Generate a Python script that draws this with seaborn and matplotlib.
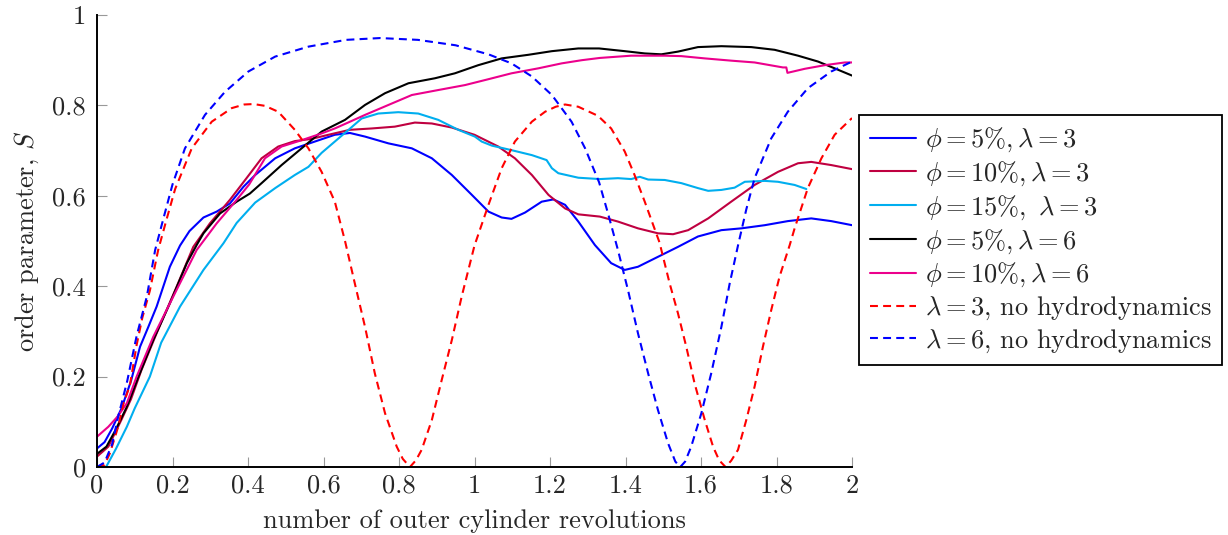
import numpy as np
import pandas as pd
import matplotlib
matplotlib.use("Agg")
import matplotlib.pyplot as plt
import seaborn as sns

# ---------------- data ----------------
# phi = 5%, lambda = 3
b5_x = [0, 0.02, 0.04, 0.065, 0.09, 0.114, 0.136, 0.158, 0.193, 0.22, 0.245, 0.282, 0.317, 0.352, 0.388,
        0.419, 0.472, 0.524, 0.577, 0.63, 0.67, 0.71, 0.772, 0.834, 0.887, 0.94, 0.993, 1.037,
        1.072, 1.098, 1.134, 1.178, 1.209, 1.24, 1.275, 1.319, 1.362, 1.398, 1.433, 1.486, 1.539,
        1.592, 1.654, 1.707, 1.769, 1.83, 1.892, 1.945, 2.0]
b5_S = [0.041, 0.055, 0.085, 0.13, 0.19, 0.266, 0.31, 0.355, 0.443, 0.49, 0.522, 0.552, 0.565, 0.583, 0.62,
        0.646, 0.683, 0.705, 0.72, 0.735, 0.739, 0.731, 0.716, 0.705, 0.683, 0.646, 0.602, 0.565,
        0.552, 0.549, 0.563, 0.587, 0.592, 0.58, 0.543, 0.491, 0.451, 0.436, 0.443, 0.465, 0.487,
        0.51, 0.524, 0.528, 0.535, 0.544, 0.55, 0.544, 0.535]

# phi = 10%, lambda = 3
p10_x = [0, 0.03, 0.065, 0.09, 0.118, 0.158, 0.211, 0.255, 0.299, 0.352, 0.397, 0.436, 0.48, 0.524,
         0.569, 0.613, 0.67, 0.728, 0.789, 0.842, 0.887, 0.94, 1.0, 1.063, 1.107, 1.152, 1.196,
         1.24, 1.275, 1.332, 1.38, 1.433, 1.486, 1.526, 1.566, 1.619, 1.68, 1.742, 1.804, 1.857,
         1.892, 1.945, 2.0]
p10_S = [0.023, 0.045, 0.105, 0.15, 0.215, 0.296, 0.399, 0.487, 0.539, 0.591, 0.64, 0.683, 0.709, 0.721,
         0.726, 0.735, 0.746, 0.749, 0.753, 0.762, 0.76, 0.751, 0.735, 0.709, 0.683, 0.646, 0.602,
         0.572, 0.559, 0.554, 0.543, 0.528, 0.517, 0.515, 0.524, 0.55, 0.587, 0.624, 0.653, 0.672,
         0.675, 0.668, 0.659]

# phi = 15%, lambda = 3
c15_x = [0.024, 0.05, 0.079, 0.1, 0.14, 0.17, 0.22, 0.282, 0.335, 0.37, 0.419, 0.472, 0.524, 0.56,
         0.595, 0.63, 0.665, 0.701, 0.745, 0.798, 0.851, 0.904, 0.957, 1.001, 1.019, 1.046, 1.098,
         1.152, 1.191, 1.205, 1.222, 1.275, 1.332, 1.38, 1.415, 1.438, 1.46, 1.504, 1.548, 1.592,
         1.619, 1.654, 1.689, 1.716, 1.769, 1.804, 1.848, 1.879]
c15_S = [0.0, 0.04, 0.089, 0.13, 0.2, 0.275, 0.355, 0.436, 0.495, 0.54, 0.585, 0.617, 0.646, 0.664,
         0.695, 0.72, 0.745, 0.771, 0.782, 0.785, 0.782, 0.768, 0.746, 0.731, 0.72, 0.711, 0.701,
         0.69, 0.679, 0.661, 0.65, 0.64, 0.637, 0.639, 0.637, 0.642, 0.636, 0.635, 0.628, 0.617,
         0.611, 0.613, 0.618, 0.631, 0.633, 0.631, 0.624, 0.615]

# phi = 5%, lambda = 6
k5_x = [0, 0.025, 0.048, 0.079, 0.11, 0.149, 0.193, 0.238, 0.264, 0.282, 0.326, 0.37, 0.405, 0.436,
        0.489, 0.542, 0.595, 0.657, 0.71, 0.763, 0.825, 0.895, 0.948, 1.01, 1.072, 1.143, 1.205,
        1.275, 1.33, 1.398, 1.451, 1.495, 1.539, 1.592, 1.654, 1.733, 1.795, 1.857, 1.91, 1.954, 2.0]
k5_S = [0.029, 0.045, 0.08, 0.133, 0.2, 0.281, 0.362, 0.451, 0.491, 0.517, 0.561, 0.587, 0.605, 0.628,
        0.668, 0.705, 0.742, 0.768, 0.801, 0.827, 0.849, 0.86, 0.871, 0.889, 0.904, 0.912, 0.92,
        0.926, 0.926, 0.92, 0.915, 0.913, 0.919, 0.929, 0.931, 0.929, 0.923, 0.91, 0.897, 0.882, 0.866]

# phi = 10%, lambda = 6
m10_x = [0, 0.03, 0.055, 0.079, 0.105, 0.149, 0.211, 0.264, 0.317, 0.37, 0.403, 0.445, 0.489, 0.542,
         0.595, 0.63, 0.665, 0.71, 0.772, 0.834, 0.904, 0.975, 1.037, 1.098, 1.169, 1.231, 1.284,
         1.332, 1.415, 1.504, 1.548, 1.61, 1.68, 1.742, 1.817, 1.826, 1.829, 1.875, 1.928, 1.981, 2.0]
m10_S = [0.067, 0.089, 0.112, 0.141, 0.2, 0.288, 0.392, 0.48, 0.539, 0.591, 0.625, 0.683, 0.709, 0.723,
         0.738, 0.749, 0.762, 0.779, 0.801, 0.823, 0.834, 0.845, 0.858, 0.871, 0.882, 0.893, 0.9,
         0.905, 0.91, 0.91, 0.909, 0.904, 0.899, 0.895, 0.884, 0.884, 0.872, 0.881, 0.889, 0.895, 0.895]

# lambda = 3, no hydrodynamics
r3_x = [0, 0.02, 0.034, 0.056, 0.07, 0.087, 0.105, 0.12, 0.14, 0.162, 0.185, 0.207, 0.251, 0.304,
        0.357, 0.39, 0.415, 0.445, 0.48, 0.524, 0.56, 0.595, 0.63, 0.657, 0.683, 0.71, 0.736, 0.763, 0.794,
        0.81, 0.829, 0.845, 0.86, 0.887, 0.913, 0.94, 0.966, 1.0, 1.037, 1.072, 1.107, 1.152,
        1.187, 1.215, 1.24, 1.275, 1.327, 1.362, 1.398, 1.424, 1.451, 1.49, 1.517, 1.539, 1.561, 1.583,
        1.61, 1.632, 1.648, 1.665, 1.68, 1.698, 1.72, 1.742, 1.764, 1.786, 1.808, 1.835, 1.848,
        1.883, 1.919, 1.954, 2.0]
r3_S = [0, 0.005, 0.03, 0.089, 0.14, 0.18, 0.27, 0.33, 0.39, 0.48, 0.55, 0.615, 0.705, 0.764,
        0.794, 0.802, 0.803, 0.799, 0.786, 0.746, 0.705, 0.653, 0.587, 0.5, 0.406, 0.31, 0.207, 0.119, 0.045,
        0.018, 0.0, 0.015, 0.038, 0.104, 0.192, 0.281, 0.377, 0.49, 0.58, 0.661, 0.72, 0.764,
        0.786, 0.797, 0.802, 0.797, 0.777, 0.749, 0.698, 0.646, 0.587, 0.497, 0.406, 0.34, 0.266, 0.185,
        0.104, 0.045, 0.015, 0.0, 0.014, 0.038, 0.104, 0.178, 0.266, 0.347, 0.421, 0.491, 0.528,
        0.617, 0.683, 0.735, 0.772]

# lambda = 6, no hydrodynamics
b6_x = [0, 0.02, 0.04, 0.056, 0.08, 0.105, 0.132, 0.154, 0.176, 0.2, 0.233, 0.286, 0.339, 0.401,
        0.472, 0.56, 0.66, 0.75, 0.85, 0.95, 1.037, 1.098, 1.152, 1.205, 1.257, 1.293, 1.33, 1.354,
        1.38, 1.407, 1.433, 1.46, 1.486, 1.513, 1.532, 1.545, 1.558, 1.574, 1.601, 1.627, 1.654,
        1.676, 1.698, 1.72, 1.742, 1.786, 1.83, 1.883, 1.945, 2.0]
b6_S = [0, 0.01, 0.05, 0.111, 0.19, 0.29, 0.377, 0.48, 0.55, 0.625, 0.705, 0.779, 0.83, 0.875,
        0.908, 0.93, 0.945, 0.949, 0.945, 0.933, 0.913, 0.893, 0.864, 0.823, 0.764, 0.705, 0.63, 0.56,
        0.48, 0.39, 0.296, 0.207, 0.126, 0.052, 0.012, 0.0, 0.012, 0.045, 0.119, 0.207, 0.31,
        0.406, 0.49, 0.57, 0.639, 0.727, 0.786, 0.838, 0.875, 0.897]

labels = [r"$\phi = 5\%, \lambda = 3$",
          r"$\phi = 10\%, \lambda = 3$",
          r"$\phi = 15\%,\ \lambda = 3$",
          r"$\phi = 5\%, \lambda = 6$",
          r"$\phi = 10\%, \lambda = 6$",
          r"$\lambda = 3$, no hydrodynamics",
          r"$\lambda = 6$, no hydrodynamics"]

xticks = [0, 0.2, 0.4, 0.6, 0.8, 1.0, 1.2, 1.4, 1.6, 1.8, 2.0]
xticklabels = ["0", "0.2", "0.4", "0.6", "0.8", "1", "1.2", "1.4", "1.6", "1.8", "2"]
yticks = [0, 0.2, 0.4, 0.6, 0.8, 1.0]
yticklabels = ["0", "0.2", "0.4", "0.6", "0.8", "1"]

# ---------------- style ----------------
sns.set_theme(style="white")
plt.rcParams.update({
    "font.family": ["cmr10"],
    "mathtext.fontset": "cm",
    "axes.formatter.use_mathtext": True,
    "axes.unicode_minus": False,
})

FS = 19
colors = ["#0000FF", "#BF0040", "#00AEEF", "#000000", "#EC008C", "#FF0000", "#0000FF"]
series = [(b5_x, b5_S), (p10_x, p10_S), (c15_x, c15_S), (k5_x, k5_S), (m10_x, m10_S),
          (r3_x, r3_S), (b6_x, b6_S)]
dashed = [False, False, False, False, False, True, True]

fig = plt.figure(figsize=(12.28, 5.35), dpi=100)
ax = fig.add_axes([97 / 1228, 68 / 535, (852 - 97) / 1228, (467 - 15) / 535])

for (xs, ss), lab, col, dsh in zip(series, labels, colors, dashed):
    df = pd.DataFrame({"x": xs, "S": ss})
    kw = dict(linestyle=(0, (3.8, 2.5))) if dsh else dict(linestyle="-")
    sns.lineplot(data=df, x="x", y="S", ax=ax, color=col, linewidth=1.5,
                 label=lab, estimator=None, sort=False, **kw)

ax.set_xlim(0, 2)
ax.set_ylim(0, 1)
ax.set_xticks(xticks)
ax.set_xticklabels(xticklabels)
ax.set_yticks(yticks)
ax.set_yticklabels(yticklabels)
ax.tick_params(axis="both", direction="in", length=7, width=0.8, color="#999999",
               labelsize=FS, top=False, right=False, bottom=True, left=True)
ax.tick_params(axis="x", pad=5)
ax.tick_params(axis="y", pad=8)
for side in ["top", "right"]:
    ax.spines[side].set_visible(False)
for side in ["left", "bottom"]:
    ax.spines[side].set_color("black")
    ax.spines[side].set_linewidth(1.4)
ax.set_xlabel("number of outer cylinder revolutions", fontsize=FS, labelpad=8)
ax.set_ylabel(r"order parameter, $S$", fontsize=FS, labelpad=8)

if ax.legend_ is not None:
    ax.legend_.remove()
handles, labs = ax.get_legend_handles_labels()
leg = fig.legend(handles, labs, loc="upper left", bbox_to_anchor=(859 / 1228, 1 - 115 / 535),
                 bbox_transform=fig.transFigure, borderaxespad=0, fontsize=FS, frameon=True,
                 fancybox=False, edgecolor="black", framealpha=1, handlelength=1.75,
                 handletextpad=0.35, labelspacing=0.2, borderpad=0.4)
leg.get_frame().set_linewidth(1.3)

fig.savefig("out.png", dpi=100)
